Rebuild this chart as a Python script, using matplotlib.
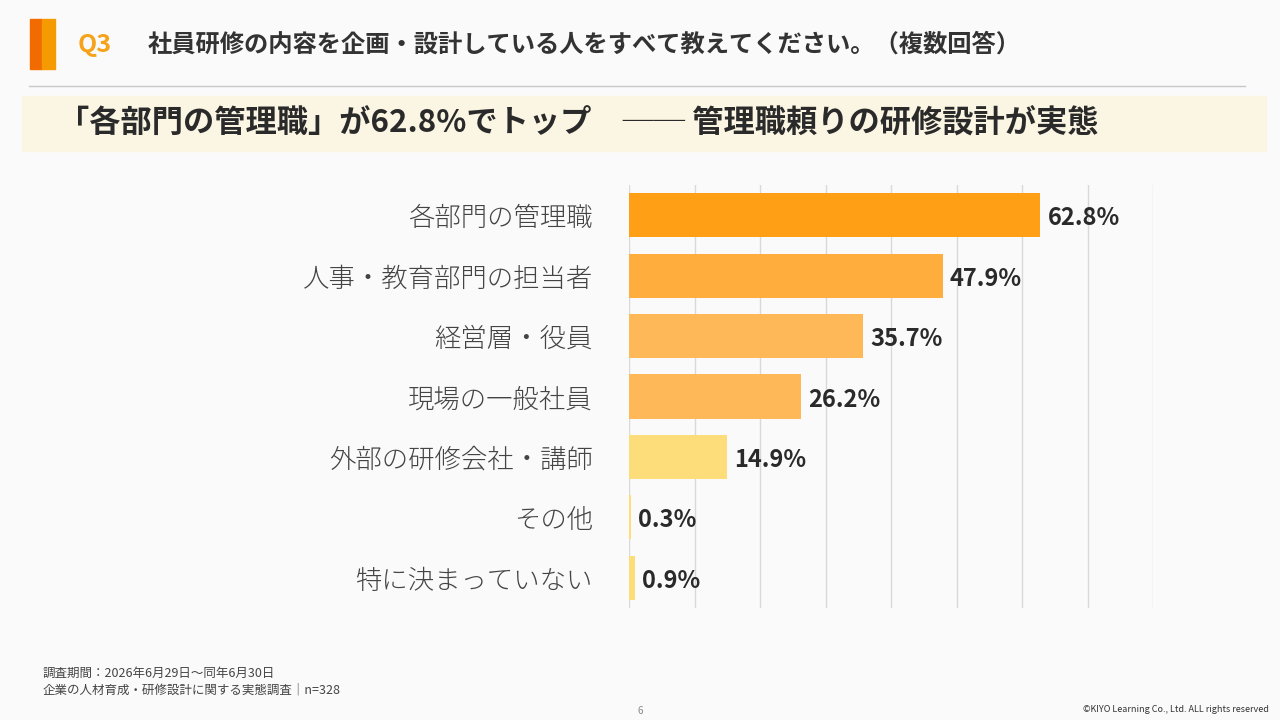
import matplotlib
matplotlib.use("Agg")
import matplotlib.pyplot as plt
from matplotlib.patches import Rectangle
from matplotlib.lines import Line2D

plt.rcParams['font.family'] = ['Noto Sans CJK JP', 'DejaVu Sans']

categories = ["各部門の管理職", "人事・教育部門の担当者", "経営層・役員", "現場の一般社員",
              "外部の研修会社・講師", "その他", "特に決まっていない"]
values = [62.8, 47.9, 35.7, 26.2, 14.9, 0.3, 0.9]
colors = ["#FF9F15", "#FFAE3E", "#FFB858", "#FFB858", "#FDDC7A", "#FDDC7A", "#FDDC7A"]
ticks = [0, 10, 20, 30, 40, 50, 60, 70, 80]

W, H = 1280, 720
fig = plt.figure(figsize=(12.8, 7.2), dpi=100)
fig.patch.set_facecolor("#FAFAFA")

def px(x, y):
    return x / W, 1 - y / H

fig.add_artist(Rectangle(px(30, 69), 12 / W, 50 / H, color="#F26B00", transform=fig.transFigure))
fig.add_artist(Rectangle(px(42, 69), 13 / W, 50 / H, color="#F59A00", transform=fig.transFigure))
fig.text(*px(78, 45), "Q3", color="#F7A21B", fontsize=18, fontweight="bold", va="center")
fig.text(*px(148, 45), "社員研修の内容を企画・設計している人をすべて教えてください。（複数回答）",
         color="#333333", fontsize=17.5, fontweight="bold", va="center")
fig.add_artist(Line2D([29 / W, 1245 / W], [1 - 86 / H] * 2, color="#C8C8C8", lw=1, transform=fig.transFigure))
fig.add_artist(Rectangle(px(22, 151), 1244 / W, 55 / H, color="#FBF5E3", transform=fig.transFigure))
fig.text(*px(58, 124), "「各部門の管理職」が62.8%でトップ　── 管理職頼りの研修設計が実態",
         color="#2A2A2A", fontsize=22.5, fontweight="bold", va="center")

ax = fig.add_axes([629 / W, 1 - 608 / H, (1153 - 629) / W, (608 - 185) / H])
ax.set_facecolor("#FAFAFA")
y = list(range(len(categories)))
ax.barh(y, values, color=colors, height=0.73, zorder=2)
ax.set_xlim(0, 80)
ax.set_ylim(len(categories) - 0.5, -0.5)
ax.set_xticks(ticks)
ax.grid(axis="x", color="#D9D9D9", lw=1, zorder=0)
ax.tick_params(axis="x", length=0, labelbottom=False)
ax.tick_params(axis="y", length=0, pad=26, labelsize=19, labelcolor="#444444")
ax.set_yticks(y)
ax.set_yticklabels(categories, fontweight="light")
for s in ax.spines.values():
    s.set_visible(False)
for i, v in enumerate(values):
    ax.text(v + 1.1, i + 0.05, f"{v}%", va="center", ha="left", fontsize=17,
            fontweight="bold", color="#2A2A2A")

fig.text(*px(43, 673), "調査期間：2026年6月29日～同年6月30日", fontsize=9, color="#444444", va="center")
fig.text(*px(43, 690), "企業の人材育成・研修設計に関する実態調査｜n=328", fontsize=9, color="#444444", va="center")
fig.text(*px(640, 711), "6", fontsize=7, color="#888888", va="center", ha="center")
fig.text(*px(1269, 709), "©KIYO Learning Co., Ltd. ALL rights reserved", fontsize=6.5,
         color="#333333", va="center", ha="right")

fig.savefig("out.png", dpi=100, facecolor=fig.get_facecolor())
